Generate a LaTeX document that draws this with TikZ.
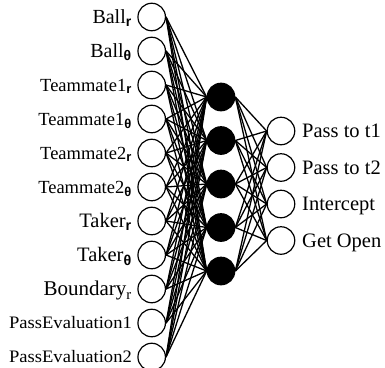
\documentclass[tikz,border=0pt]{standalone}
\usepackage{graphicx}
\usepackage{fontspec}
\setmainfont{Liberation Serif}
\setsansfont{Liberation Sans}
% bold sans subscripts for the polar components
\newcommand\subr{\textsubscript{\sffamily\bfseries r}}
\newcommand\subth{\textsubscript{\sffamily\bfseries θ}}
\newcommand\wide[1]{\scalebox{1.06}[1]{#1}}
\begin{document}
\begin{tikzpicture}[x=1pt,y=-1pt,
  unit/.style={circle,draw,line width=1.2pt,minimum size=27.5pt,inner sep=0pt,fill=white},
  hidunit/.style={unit,fill=black},
  lab/.style={inner sep=0pt},
  link/.style={line width=1.3pt}]
\useasboundingbox (0,0) rectangle (385,367);

% input layer: label / font size
\foreach \t/\fs [count=\i] in {Ball\subr/20, Ball\subth/20, Teammate1\subr/18.5, Teammate1\subth/18.5,
    Teammate2\subr/18.5, Teammate2\subth/18.5, Taker\subr/20.5, Taker\subth/20.5,
    Boundary\textsubscript{r}/21, \wide{PassEvaluation1}/17.5, \wide{PassEvaluation2}/17.5} {
  \pgfmathsetmacro\yy{17+34*(\i-1)}
  \pgfmathsetmacro\bl{\yy+0.33*\fs}
  \node[unit] (in\i) at (151.7,\yy) {};
  \node[lab,anchor=base east,font=\fontsize{\fs}{\fs}\selectfont] (inl\i) at (132,\bl) {\t};
}

% hidden layer
\foreach \i in {1,...,5} {
  \pgfmathsetmacro\yy{97+43.5*(\i-1)}
  \node[hidunit] (h\i) at (221,\yy) {};
}

% output layer
\foreach \t [count=\i] in {Pass to t1, Pass to t2, Intercept, Get Open} {
  \pgfmathsetmacro\yy{131+36.5*(\i-1)}
  \node[unit] (out\i) at (281,\yy) {};
  \node[lab,anchor=base west,font=\fontsize{20.5}{20.5}\selectfont] (outl\i) at (302,\yy+6.5) {\t};
}

% full connections
\foreach \i in {1,...,11}
  \foreach \j in {1,...,5}
    \draw[link] (in\i.east) -- (h\j.west);
\foreach \j in {1,...,5}
  \foreach \k in {1,...,4}
    \draw[link] (h\j.east) -- (out\k.west);
\end{tikzpicture}
\end{document}
